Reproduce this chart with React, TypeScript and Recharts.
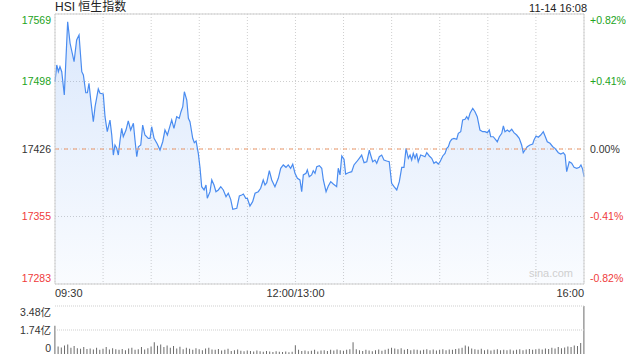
import {
  Area,
  Bar,
  BarChart,
  CartesianGrid,
  ComposedChart,
  ReferenceLine,
  XAxis,
  YAxis,
} from "recharts";

const FONT = "'Liberation Sans', Arial, 'Noto Sans CJK SC', sans-serif";
const UP = "#22a322";
const DOWN = "#ef3b3b";
const GRID = "#cfcfcf";

// trading minutes since 09:30 (lunch break removed, 330 = 16:00)
const minutes = [
  0, 1.1, 2.1, 3.1, 4.2, 5.8, 7.9, 9.4, 11.9, 13.5,
  15.0, 16.7, 17.7, 19.2, 20.2, 21.2, 22.3, 23.9, 25.0, 27.0,
  28.1, 30.1, 31.2, 32.6, 34.3, 35.4, 36.4, 37.4, 38.5, 39.5,
  40.6, 41.6, 42.6, 44.3, 45.7, 47.2, 48.9, 49.9, 51.0, 52.0,
  53.5, 54.7, 56.1, 58.2, 59.3, 60.3, 61.8, 63.8, 65.5, 67.2,
  68.6, 70.1, 71.3, 72.8, 74.2, 75.9, 77.5, 78.6, 79.7, 80.7,
  82.2, 83.2, 84.2, 85.9, 86.9, 88.0, 89.4, 90.5, 91.5, 93.0,
  94.2, 95.0, 96.7, 97.8, 99.2, 100.4, 101.9, 103.4, 105.0, 106.7,
  108.1, 109.6, 110.9, 113.4, 115.0, 116.5, 117.5, 119.0, 120.0, 121.6,
  123.3, 124.8, 126.8, 128.3, 129.9, 131.0, 132.1, 133.7, 135.2, 137.2,
  139.3, 140.8, 142.4, 144.1, 145.5, 147.0, 148.3, 149.7, 151.2, 152.8,
  153.9, 154.9, 156.6, 157.4, 158.6, 160.1, 161.1, 162.2, 163.3, 164.9,
  166.4, 167.4, 169.1, 170.5, 172.0, 173.6, 175.7, 176.7, 177.8, 178.9,
  180.3, 181.3, 183.0, 185.1, 186.5, 188.2, 189.8, 191.3, 192.8, 194.5,
  196.1, 196.9, 198.2, 199.6, 200.7, 202.3, 203.8, 205.2, 206.9, 208.5,
  210.0, 211.5, 213.2, 214.8, 216.3, 217.7, 219.0, 220.4, 221.5, 222.5,
  223.5, 224.6, 225.6, 226.6, 228.1, 229.8, 230.8, 231.9, 233.5, 235.0,
  236.4, 237.7, 239.1, 240.2, 241.9, 243.3, 244.4, 245.4, 246.4, 247.5,
  248.9, 250.6, 251.6, 253.1, 254.3, 255.8, 256.8, 257.8, 258.9, 260.6,
  262.0, 263.4, 265.1, 266.8, 268.2, 269.7, 270.9, 271.8, 273.4, 275.1,
  275.9, 277.2, 278.7, 279.7, 280.7, 282.2, 283.4, 284.9, 286.3, 288.0,
  289.6, 291.1, 292.1, 293.2, 294.6, 296.3, 298.0, 298.8, 300.1, 301.5,
  303.0, 304.6, 305.7, 307.1, 308.8, 310.5, 311.9, 314.0, 315.5, 317.1,
  318.2, 319.2, 320.8, 322.3, 323.8, 325.5, 327.1, 328.1, 329.2, 330,
];

const prices = [
  17497.3, 17515.0, 17507.9, 17513.2, 17507.9, 17483.2, 17560.8, 17538.0, 17518.5, 17541.5,
  17546.8, 17507.9, 17504.4, 17485.6, 17485.6, 17495.6, 17477.9, 17454.9, 17470.8, 17489.6,
  17485.0, 17484.3, 17460.2, 17444.3, 17456.7, 17440.8, 17419.6, 17430.2, 17426.7, 17419.6,
  17435.5, 17447.9, 17439.0, 17446.1, 17455.7, 17446.1, 17453.2, 17435.5, 17417.8, 17428.4,
  17430.2, 17451.4, 17440.8, 17437.3, 17437.3, 17449.6, 17437.3, 17431.3, 17424.9, 17433.7,
  17446.1, 17440.8, 17447.9, 17456.7, 17447.9, 17460.2, 17458.5, 17465.5, 17470.8, 17486.7,
  17477.9, 17458.5, 17454.9, 17437.3, 17432.7, 17434.5, 17421.4, 17405.6, 17386.1, 17382.6,
  17387.9, 17373.8, 17380.8, 17393.2, 17387.9, 17380.8, 17382.6, 17386.1, 17382.6, 17375.5,
  17379.1, 17372.7, 17362.1, 17363.2, 17376.2, 17377.3, 17378.3, 17373.8, 17373.8, 17365.6,
  17370.2, 17379.1, 17380.8, 17384.4, 17393.2, 17387.9, 17390.3, 17403.0, 17393.2, 17386.1,
  17395.0, 17405.6, 17409.1, 17406.6, 17409.1, 17405.6, 17409.8, 17400.3, 17395.0, 17393.2,
  17380.8, 17398.5, 17400.3, 17403.8, 17396.7, 17398.5, 17403.0, 17400.3, 17407.3, 17408.3,
  17405.6, 17393.2, 17380.8, 17386.8, 17391.4, 17388.9, 17386.1, 17405.6, 17398.5, 17418.6,
  17415.1, 17399.5, 17400.9, 17402.0, 17409.1, 17412.5, 17416.1, 17419.6, 17411.5, 17412.5,
  17424.9, 17419.6, 17412.5, 17414.3, 17410.9, 17417.8, 17419.6, 17414.3, 17413.3, 17412.5,
  17389.7, 17386.1, 17382.6, 17391.4, 17406.6, 17406.6, 17426.7, 17416.1, 17419.6, 17414.3,
  17421.4, 17416.1, 17421.4, 17412.5, 17419.6, 17418.6, 17417.8, 17422.1, 17418.6, 17416.1,
  17410.9, 17412.5, 17410.1, 17412.5, 17418.6, 17421.4, 17426.7, 17428.4, 17433.7, 17436.3,
  17437.3, 17436.3, 17442.6, 17444.3, 17456.7, 17457.5, 17460.2, 17457.5, 17463.8, 17469.1,
  17465.5, 17460.2, 17446.1, 17444.3, 17444.3, 17443.3, 17446.1, 17439.0, 17439.0, 17435.5,
  17433.7, 17439.0, 17442.6, 17450.4, 17444.3, 17446.1, 17444.3, 17446.9, 17443.3, 17440.8,
  17437.3, 17430.2, 17422.1, 17424.9, 17428.4, 17430.2, 17431.3, 17435.5, 17439.8, 17438.4,
  17440.8, 17444.3, 17439.8, 17433.7, 17432.0, 17428.4, 17426.7, 17422.1, 17420.7, 17422.1,
  17419.6, 17402.0, 17412.5, 17410.9, 17406.6, 17405.6, 17406.6, 17409.1, 17404.5, 17396.7,
];

// volume in 亿, one bar per 2 trading minutes
const volumes = [
  2.05,
  0.55, 0.48, 0.62, 0.68, 0.45, 0.58, 0.42, 0.38, 0.5, 0.36,
  0.4, 0.33, 0.45, 0.3, 0.38, 0.5, 0.32, 0.42, 0.35, 0.3,
  0.36, 0.28, 0.4, 0.45, 0.3, 0.35, 0.5, 0.33, 0.42, 0.55,
  0.85, 0.6, 0.68, 0.5, 0.62, 0.45, 0.58, 0.4, 0.52, 0.35,
  0.45, 0.38, 0.3, 0.42, 0.35, 0.28, 0.4, 0.45, 0.33, 0.3,
  0.36, 0.25, 0.3, 0.38, 0.22, 0.28, 0.33, 0.24, 0.2, 0.26,
  0.22, 0.18, 0.25, 0.2, 0.16, 0.22, 0.19, 0.15, 0.2, 0.17,
  0.14, 0.18, 0.12, 0.16,
  0.63,
  0.3, 0.22, 0.26, 0.2, 0.24, 0.3, 0.18, 0.25, 0.28, 0.22,
  0.3, 0.26, 0.33, 0.28, 0.24, 0.3, 0.35,
  0.86,
  0.35, 0.28, 0.22, 0.3, 0.25, 0.2, 0.28, 0.32, 0.24, 0.3,
  0.38, 0.45, 0.4, 0.35, 0.42, 0.3, 0.36, 0.28, 0.33, 0.3,
  0.25, 0.3, 0.35, 0.28, 0.32, 0.26, 0.3, 0.35, 0.28, 0.33,
  0.3, 0.36, 0.4, 0.45,
  0.62, 0.55, 0.4,
  0.35, 0.3, 0.38, 0.28, 0.32, 0.25, 0.3, 0.35, 0.27, 0.3,
  0.28, 0.33, 0.25, 0.3, 0.35, 0.28, 0.32, 0.36, 0.3, 0.34,
  0.38, 0.32, 0.4, 0.36, 0.45, 0.4, 0.5, 0.42, 0.48,
  0.55, 0.5, 0.62, 0.58, 0.8,
  3.48,
];

const prevClose = 17426;
const priceTicks = [17283, 17354.5, 17426, 17497.5, 17569];
const pctTicks = [-0.82, -0.41, 0, 0.41, 0.82];
const volTicks = [0, 1.74, 3.48];
const volTickLabels = ["0", "1.74亿", "3.48亿"];
const xTicks = [0, 30, 60, 90, 120, 150, 180, 210, 240, 270, 300, 330];
const xTickLabels: Record<number, string> = { 0: "09:30", 150: "12:00/13:00", 330: "16:00" };

const priceData = minutes.map((t, i) => ({ t, price: prices[i] }));
const volData = volumes.map((vol, i) => ({ t: i * 2, vol }));

// edge labels sit inside the frame, like the original
const edgeShift = (index: number, count: number) => (index === 0 ? -6 : index === count - 1 ? 6 : 0);

const renderXTick = (props: any) => {
  const { x, y, payload } = props;
  const label = xTickLabels[payload.value];
  if (!label) return <g />;
  const anchor = payload.value === 0 ? "start" : payload.value === 330 ? "end" : "middle";
  return (
    <text x={x} y={y} dy="0.71em" textAnchor={anchor} fontSize={11} fill="#333" fontFamily={FONT}>
      {label}
    </text>
  );
};

const renderPriceTick = (props: any) => {
  const { x, y, payload, index } = props;
  const v = payload.value;
  const fill = Math.round(v) > prevClose ? UP : Math.round(v) < prevClose ? DOWN : "#333";
  return (
    <text x={x} y={y + edgeShift(index, priceTicks.length)} dy="0.355em" textAnchor="end" fontSize={10.5} fill={fill} fontFamily={FONT}>
      {Math.round(v)}
    </text>
  );
};

const renderPctTick = (props: any) => {
  const { x, y, payload, index } = props;
  const v = payload.value;
  const fill = v > 0 ? UP : v < 0 ? DOWN : "#333";
  const label = (v > 0 ? "+" : "") + v.toFixed(2) + "%";
  return (
    <text x={x} y={y + edgeShift(index, pctTicks.length)} dy="0.355em" textAnchor="start" fontSize={10.5} fill={fill} fontFamily={FONT}>
      {label}
    </text>
  );
};

const renderVolTick = (props: any) => {
  const { x, y, index } = props;
  const shift = index === 0 ? -6 : index === volTicks.length - 1 ? 6 : 0;
  return (
    <text x={x} y={y + shift} dy="0.355em" textAnchor="end" fontSize={10.5} fill="#333" fontFamily={FONT}>
      {volTickLabels[index]}
    </text>
  );
};

export default function App() {
  return (
    <div style={{ position: "absolute", left: 0, top: 0, width: 640, height: 360, background: "#fff", fontFamily: FONT }}>
      <div style={{ position: "absolute", left: 55, top: 0, fontSize: 12, lineHeight: "15px", color: "#222" }}>
        HSI 恒生指数
      </div>
      <div style={{ position: "absolute", left: 0, top: 1, width: 587, textAlign: "right", fontSize: 11, lineHeight: "14px", color: "#222" }}>
        11-14 16:08
      </div>

      <div style={{ position: "absolute", left: 0, top: 0 }}>
        <ComposedChart width={640} height={300} data={priceData} margin={{ top: 14, right: 0, bottom: 0, left: 0 }}>
          <defs>
            <linearGradient id="hsiFill" x1="0" y1="0" x2="0" y2="1">
              <stop offset="0%" stopColor="#4a8cf0" stopOpacity={0.2} />
              <stop offset="100%" stopColor="#4a8cf0" stopOpacity={0.03} />
            </linearGradient>
          </defs>
          <CartesianGrid yAxisId="price" stroke={GRID} strokeDasharray="1 2" />
          <XAxis
            dataKey="t"
            type="number"
            domain={[0, 330]}
            ticks={xTicks}
            interval={0}
            height={16}
            tickSize={3}
            tickMargin={2}
            tickLine={false}
            axisLine={false}
            tick={renderXTick}
          />
          <YAxis
            yAxisId="price"
            type="number"
            domain={[17283, 17569]}
            ticks={priceTicks}
            interval={0}
            allowDataOverflow
            width={55}
            tickSize={2}
            tickMargin={2}
            tickLine={false}
            axisLine={false}
            tick={renderPriceTick}
          />
          <YAxis
            yAxisId="pct"
            orientation="right"
            type="number"
            domain={[-0.82, 0.82]}
            ticks={pctTicks}
            interval={0}
            allowDataOverflow
            width={56}
            tickSize={3}
            tickMargin={3}
            tickLine={false}
            axisLine={false}
            tick={renderPctTick}
          />
          <Area
            yAxisId="price"
            type="linear"
            dataKey="price"
            stroke="#4a8cf0"
            strokeWidth={1.2}
            fill="url(#hsiFill)"
            fillOpacity={1}
            baseValue="dataMin"
            dot={false}
            activeDot={false}
            isAnimationActive={false}
          />
          <ReferenceLine yAxisId="price" y={prevClose} stroke="#f09a6a" strokeDasharray="4 5" />
          <ReferenceLine yAxisId="price" y={17569} stroke={GRID} />
          <ReferenceLine yAxisId="price" y={17283} stroke={GRID} />
          <ReferenceLine yAxisId="price" x={0} stroke={GRID} />
          <ReferenceLine yAxisId="price" x={330} stroke={GRID} />
        </ComposedChart>
      </div>

      <div style={{ position: "absolute", left: 0, top: 263, width: 573, textAlign: "right", fontSize: 11, lineHeight: "20px", color: "#cfcfcf" }}>
        sina.com
      </div>

      <div style={{ position: "absolute", left: 0, top: 300 }}>
        <BarChart width={640} height={60} data={volData} margin={{ top: 6, right: 56, bottom: 6, left: 0 }}>
          <XAxis dataKey="t" type="number" domain={[0, 330]} hide />
          <YAxis
            type="number"
            domain={[0, 3.48]}
            ticks={volTicks}
            interval={0}
            allowDataOverflow
            width={55}
            tickSize={2}
            tickMargin={2}
            tickLine={false}
            axisLine={false}
            tick={renderVolTick}
          />
          <ReferenceLine y={3.48} stroke={GRID} strokeDasharray="1 1" />
          <ReferenceLine y={1.74} stroke={GRID} strokeDasharray="1 1" />
          <Bar dataKey="vol" fill="#6b6b6b" barSize={1} isAnimationActive={false} />
        </BarChart>
      </div>
    </div>
  );
}
